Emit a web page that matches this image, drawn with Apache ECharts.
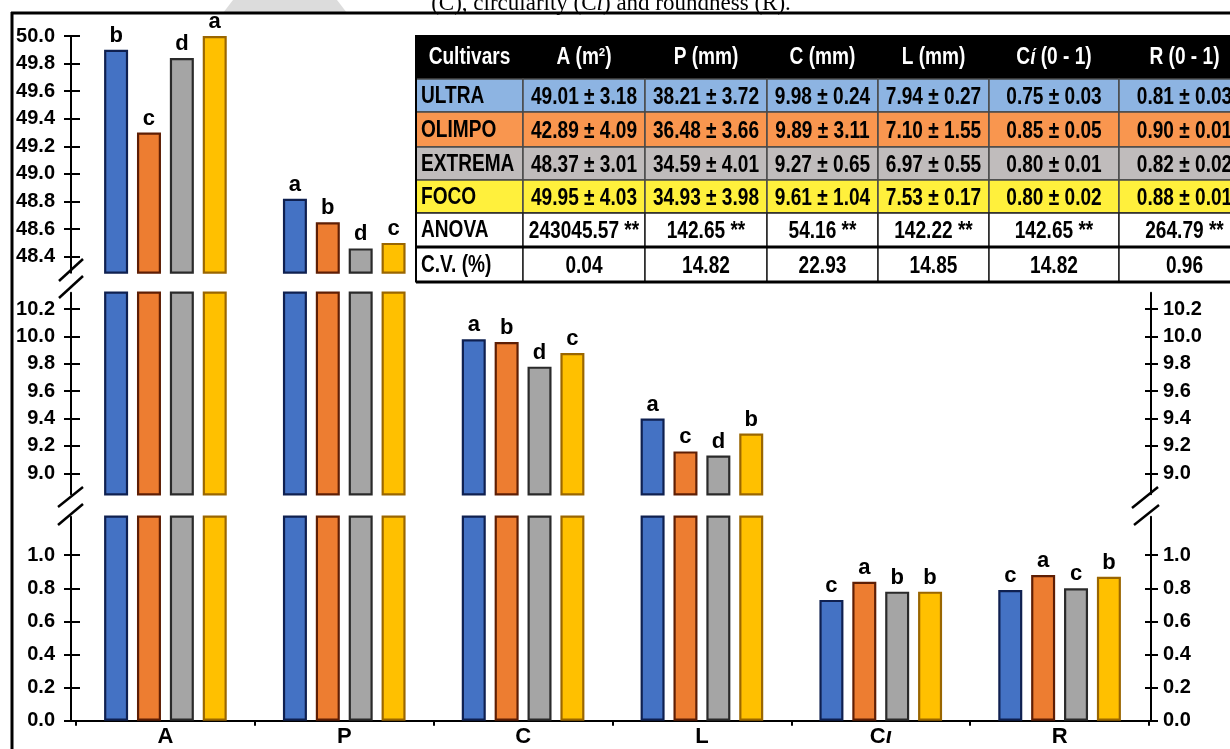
<!DOCTYPE html>
<html>
<head>
<meta charset="utf-8">
<script src="https://cdn.jsdelivr.net/npm/echarts@6/dist/echarts.min.js"></script>
<style>
html,body{margin:0;padding:0;background:#fff;}
#chart{width:1230px;height:749px;}
</style>
</head>
<body>
<div id="chart"></div>
<script>
// ---------------- DATA ----------------
const categories = ['A', 'P', 'C', 'L', 'Ci', 'R'];
const cultivars = ['ULTRA', 'OLIMPO', 'EXTREMA', 'FOCO'];

const ultraValues   = [49.90, 48.82, 9.98, 9.40, 0.73, 0.79];
const olimpoValues  = [49.30, 48.65, 9.96, 9.16, 0.84, 0.88];
const extremaValues = [49.84, 48.46, 9.78, 9.13, 0.78, 0.80];
const focoValues    = [50.00, 48.50, 9.88, 9.29, 0.78, 0.87];

const ultraLetters   = ['b', 'a', 'a', 'a', 'c', 'c'];
const olimpoLetters  = ['c', 'b', 'b', 'c', 'a', 'a'];
const extremaLetters = ['d', 'd', 'd', 'd', 'b', 'c'];
const focoLetters    = ['a', 'c', 'c', 'b', 'b', 'b'];

const topTicks = [48.4, 48.6, 48.8, 49.0, 49.2, 49.4, 49.6, 49.8, 50.0];
const midTicks = [9.0, 9.2, 9.4, 9.6, 9.8, 10.0, 10.2];
const lowTicks = [0.0, 0.2, 0.4, 0.6, 0.8, 1.0];

const tableHeader = ['Cultivars', 'A (m²)', 'P (mm)', 'C (mm)', 'L (mm)', 'Cί (0 - 1)', 'R (0 - 1)'];
const tableUltra   = ['49.01 ± 3.18', '38.21 ± 3.72', '9.98 ± 0.24', '7.94 ± 0.27', '0.75 ± 0.03', '0.81 ± 0.03'];
const tableOlimpo  = ['42.89 ± 4.09', '36.48 ± 3.66', '9.89 ± 3.11', '7.10 ± 1.55', '0.85 ± 0.05', '0.90 ± 0.01'];
const tableExtrema = ['48.37 ± 3.01', '34.59 ± 4.01', '9.27 ± 0.65', '6.97 ± 0.55', '0.80 ± 0.01', '0.82 ± 0.02'];
const tableFoco    = ['49.95 ± 4.03', '34.93 ± 3.98', '9.61 ± 1.04', '7.53 ± 0.17', '0.80 ± 0.02', '0.88 ± 0.01'];
const tableAnova   = ['243045.57 **', '142.65 **', '54.16 **', '142.22 **', '142.65 **', '264.79 **'];
const tableCV      = ['0.04', '14.82', '22.93', '14.85', '14.82', '0.96'];

const titleText = '(C), circularity (C{i|i}) and roundness (R).';

// ---------------- STYLE / LAYOUT ----------------
const FONT = '"Liberation Sans", Arial, Helvetica, sans-serif';
const fills   = ['#4472C4', '#ED7D31', '#A5A5A5', '#FFC000'];
const borders = ['#0F2050', '#5E1E04', '#2A2A2A', '#9A6600'];
const rowFills = ['#8DB4E2', '#F9964F', '#C0BCBC', '#FFF03C'];

const panels = [
  { top: 36,    bottom: 272.7, min: 48.284, max: 50.0,  ticks: topTicks, right: false },
  { top: 292.7, bottom: 494.3, min: 8.846,  max: 10.321, ticks: midTicks, right: true },
  { top: 516.7, bottom: 720.7, min: 0,      max: 1.233,  ticks: lowTicks, right: true }
];
const GRID_LEFT = 76, GRID_RIGHT = 81;

const valuesByCultivar = [ultraValues, olimpoValues, extremaValues, focoValues];
const lettersByCultivar = [ultraLetters, olimpoLetters, extremaLetters, focoLetters];

const grids = [], xAxes = [], yAxes = [], series = [];
panels.forEach((p, pi) => {
  grids.push({ left: GRID_LEFT, right: GRID_RIGHT, top: p.top, height: p.bottom - p.top });
  const isBottom = pi === panels.length - 1;
  xAxes.push({
    type: 'category', gridIndex: pi, data: categories,
    axisLine: { show: isBottom, onZero: false, lineStyle: { color: '#000', width: 2 } },
    axisTick: { show: isBottom, length: 5, lineStyle: { color: '#000', width: 2 } },
    axisLabel: {
      show: isBottom, margin: 5, color: '#000', fontSize: 22, fontWeight: 'bold', fontFamily: FONT,
      formatter: v => v === 'Ci' ? '{n|C}{i|ι}' : v,
      rich: {
        n: { fontSize: 22, fontWeight: 'bold', fontFamily: FONT, color: '#000' },
        i: { fontSize: 22, fontWeight: 'bold', fontStyle: 'italic', fontFamily: FONT, color: '#000' }
      }
    },
    splitLine: { show: false }
  });
  const sides = p.right ? ['left', 'right'] : ['left'];
  let labeledIdx = null;
  sides.forEach(side => {
    const base = {
      type: 'value', gridIndex: pi, position: side, min: p.min, max: p.max,
      offset: side === 'left' ? 5 : 2,
      splitLine: { show: false }
    };
    yAxes.push(Object.assign({}, base, {
      axisLine: { show: true, lineStyle: { color: '#000', width: 2 } },
      axisTick: { show: true, inside: false, length: 7, customValues: p.ticks, lineStyle: { color: '#000', width: 2 } },
      axisLabel: {
        show: true, customValues: p.ticks, margin: side === 'left' ? 16 : 12,
        formatter: v => Number(v).toFixed(1),
        color: '#000', fontSize: 20, fontWeight: 'bold', fontFamily: FONT
      }
    }));
    if (side === 'left') labeledIdx = yAxes.length - 1;
    yAxes.push(Object.assign({}, base, {
      axisLine: { show: false },
      axisTick: { show: true, inside: true, length: side === 'left' ? 9 : 6, customValues: p.ticks, lineStyle: { color: '#000', width: 2 } },
      axisLabel: { show: false }
    }));
  });
  cultivars.forEach((name, ci) => {
    const vals = valuesByCultivar[ci];
    const lets = lettersByCultivar[ci];
    series.push({
      type: 'bar', name: name, xAxisIndex: pi, yAxisIndex: labeledIdx,
      barWidth: 24, barGap: '37%', clip: true,
      itemStyle: { color: fills[ci], borderColor: borders[ci], borderWidth: 2.2 },
      label: {
        position: 'top', distance: 3, color: '#000', fontSize: 22, fontWeight: 'bold', fontFamily: FONT,
        formatter: prm => lets[prm.dataIndex]
      },
      data: vals.map(v => v < p.min ? '-' : { value: v, label: { show: v <= p.max } })
    });
  });
});

// ---------------- GRAPHICS (frame, breaks, table) ----------------
const graphics = [];
graphics.push({ type: 'polygon', z: 1, shape: { points: [[223, 13], [233, 0], [337, 0], [347, 13]] }, style: { fill: '#DCDCDC' } });
graphics.push({
  type: 'text', x: 611, y: 15, z: 2,
  style: {
    text: titleText, font: '23px "Liberation Serif", "Times New Roman", serif', fill: '#000',
    align: 'center', textAlign: 'center', verticalAlign: 'bottom', textVerticalAlign: 'bottom',
    rich: { i: { font: 'italic 23px "Liberation Serif", "Times New Roman", serif', fill: '#000' } }
  }
});
graphics.push({ type: 'line', z: 5, shape: { x1: 11, y1: 13, x2: 1230, y2: 13 }, style: { stroke: '#000', lineWidth: 3 } });
graphics.push({ type: 'line', z: 5, shape: { x1: 12, y1: 12, x2: 12, y2: 749 }, style: { stroke: '#000', lineWidth: 3 } });
[[59, 281, 83, 259], [59, 298, 83, 276], [58, 507, 83, 487], [58, 525, 83, 504],
 [1132, 508, 1158, 487], [1134, 525, 1159, 505]].forEach(s => {
  graphics.push({ type: 'line', z: 5, shape: { x1: s[0], y1: s[1], x2: s[2], y2: s[3] }, style: { stroke: '#000', lineWidth: 2.5 } });
});

const colX = [416, 523, 645, 767, 878, 989, 1119, 1250];
const rowY = [35, 79, 112, 147, 180, 213, 247, 282];
const tableBody = [
  [cultivars[0]].concat(tableUltra),
  [cultivars[1]].concat(tableOlimpo),
  [cultivars[2]].concat(tableExtrema),
  [cultivars[3]].concat(tableFoco),
  ['ANOVA'].concat(tableAnova),
  ['C.V. (%)'].concat(tableCV)
];
const TFONT = 'bold 23px "Liberation Sans", Arial, sans-serif';
const SX = 0.83;
function cellText(txt, x, y, align, color) {
  const st = {
    text: txt, font: TFONT, fill: color,
    align: align, textAlign: align, verticalAlign: 'middle', textVerticalAlign: 'middle'
  };
  if (txt.indexOf('ί') >= 0) {
    const parts = txt.split('ί');
    st.text = '{n|' + parts[0] + '}{i|ί}{n|' + parts[1] + '}';
    st.rich = {
      n: { font: TFONT, fill: color },
      i: { font: 'italic ' + TFONT, fill: color }
    };
  }
  return { type: 'text', x: x, y: y, scaleX: SX, z: 12, style: st };
}
graphics.push({ type: 'rect', z: 10, shape: { x: colX[0], y: rowY[0], width: colX[7] - colX[0], height: rowY[1] - rowY[0] }, style: { fill: '#000' } });
tableHeader.forEach((h, c) => {
  graphics.push(cellText(h, (colX[c] + colX[c + 1]) / 2, (rowY[0] + rowY[1]) / 2 + 1, 'center', '#fff'));
});
tableBody.forEach((row, r) => {
  const y0 = rowY[r + 1], y1 = rowY[r + 2];
  const fill = r < 4 ? rowFills[r] : '#fff';
  row.forEach((txt, c) => {
    graphics.push({ type: 'rect', z: 10, shape: { x: colX[c], y: y0, width: colX[c + 1] - colX[c], height: y1 - y0 },
      style: { fill: fill, stroke: r < 4 ? '#4a4a4a' : '#222', lineWidth: 1.5 } });
    if (c === 0) graphics.push(cellText(txt, colX[0] + 5, (y0 + y1) / 2 + 1, 'left', '#000'));
    else graphics.push(cellText(txt, (colX[c] + colX[c + 1]) / 2, (y0 + y1) / 2 + 2, 'center', '#000'));
  });
});
graphics.push({ type: 'line', z: 11, shape: { x1: colX[0], y1: rowY[6], x2: 1230, y2: rowY[6] }, style: { stroke: '#000', lineWidth: 3 } });
graphics.push({ type: 'line', z: 11, shape: { x1: colX[0], y1: rowY[7], x2: 1230, y2: rowY[7] }, style: { stroke: '#000', lineWidth: 3 } });
graphics.push({ type: 'line', z: 11, shape: { x1: colX[0], y1: rowY[0], x2: colX[0], y2: rowY[7] }, style: { stroke: '#000', lineWidth: 2 } });

const chart = echarts.init(document.getElementById('chart'), null, { renderer: 'canvas' });
chart.setOption({
  backgroundColor: '#fff',
  animation: false,
  grid: grids,
  xAxis: xAxes,
  yAxis: yAxes,
  series: series,
  graphic: { elements: graphics }
});
</script>
</body>
</html>
